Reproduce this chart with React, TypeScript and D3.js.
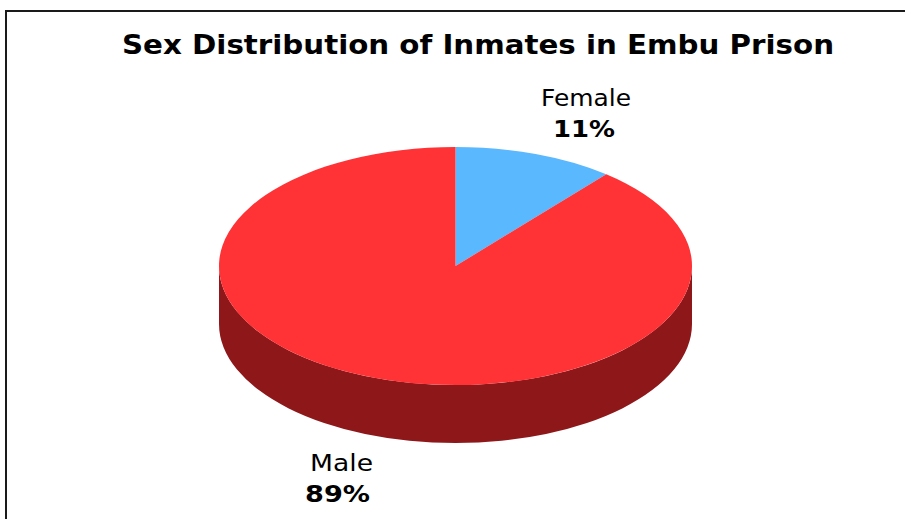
import React from "react";
import * as d3 from "d3";

const categories = ["Female", "Male"];
const values = [11, 89];
const percentLabels = ["11%", "89%"];
const topColors = ["#5AB8FF", "#FF3236"];
const sideColors = ["#2E6E9E", "#8E1719"];
const title = "Sex Distribution of Inmates in Embu Prison";

const App = () => {
  const width = 905;
  const height = 519;
  const cx = 455.5;
  const cy = 266;
  const rx = 236.5;
  const ry = 119;
  const depth = 58;

  const pie = d3.pie<number>().sort(null).value(d => d);
  const slices = pie(values);
  const arc = d3.arc<d3.PieArcDatum<number>>().innerRadius(0).outerRadius(rx);

  const pt = (a: number) => [cx + rx * Math.sin(a), cy - ry * Math.cos(a)];

  // front wall: only the part of each slice between 3 and 9 o'clock shows
  const sides = slices
    .map((s, i) => {
      const a0 = Math.max(s.startAngle, Math.PI / 2);
      const a1 = Math.min(s.endAngle, (3 * Math.PI) / 2);
      if (a1 <= a0) return null;
      const [x0, y0] = pt(a0);
      const [x1, y1] = pt(a1);
      const d = `M${x0},${y0}A${rx},${ry} 0 0 1 ${x1},${y1}L${x1},${y1 + depth}A${rx},${ry} 0 0 0 ${x0},${y0 + depth}Z`;
      return { d, color: sideColors[i] };
    })
    .filter(Boolean) as { d: string; color: string }[];

  // name / percent label placement (x of name, x of percent, baseline of name, widths)
  const labelPos = [
    { xn: 586, xp: 584, y: 106, wn: 90, wp: 62 },
    { xn: 341.5, xp: 337.5, y: 471, wn: 63, wp: 65 },
  ];

  return (
    <svg width={width} height={height} style={{ position: "absolute", left: 0, top: 0 }}>
      <rect x={0} y={0} width={width} height={height} fill="#fff" />
      <rect x={6} y={11} width={1200} height={1200} fill="none" stroke="#1a1a1a" strokeWidth={2} />
      <text
        x={478}
        y={53.5}
        textAnchor="middle"
        fontFamily="DejaVu Sans"
        fontWeight="bold"
        fontSize={26}
        textLength={712}
        lengthAdjust="spacingAndGlyphs"
        fill="#000"
      >
        {title}
      </text>
      {sides.map((s, i) => (
        <path key={"side" + i} d={s.d} fill={s.color} />
      ))}
      <g transform={`translate(${cx},${cy}) scale(1,${ry / rx})`}>
        {slices.map((s, i) => (
          <path key={categories[i]} d={arc(s) || ""} fill={topColors[i]} />
        ))}
      </g>
      {categories.map((c, i) => {
        const p = labelPos[i];
        return (
          <g key={"lbl" + c} fontFamily="DejaVu Sans" fontSize={23} textAnchor="middle" fill="#000">
            <text x={p.xn} y={p.y} textLength={p.wn} lengthAdjust="spacingAndGlyphs">{c}</text>
            <text x={p.xp} y={p.y + 31} fontWeight="bold" textLength={p.wp} lengthAdjust="spacingAndGlyphs">
              {percentLabels[i]}
            </text>
          </g>
        );
      })}
    </svg>
  );
};

export default App;
